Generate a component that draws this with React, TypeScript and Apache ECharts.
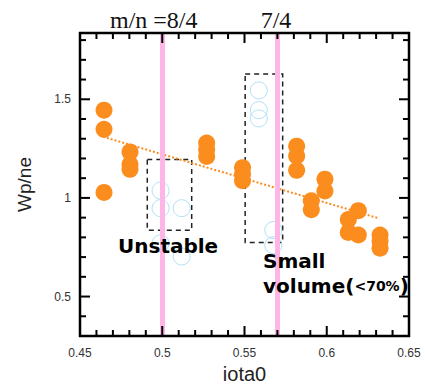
import React, { useEffect, useRef } from "react";
import * as echarts from "echarts";

// ---- data ----
const stableIota = [
  0.4646, 0.4646, 0.4646,
  0.4804, 0.4804, 0.4804,
  0.527, 0.527, 0.527,
  0.5488, 0.5488, 0.5488,
  0.5817, 0.5817, 0.5817,
  0.5906, 0.5906,
  0.5989, 0.5989,
  0.6131, 0.6131,
  0.6192, 0.6192,
  0.6324, 0.6324, 0.6324,
];
const stableWp = [
  1.445, 1.348, 1.028,
  1.233, 1.17, 1.145,
  1.278, 1.245, 1.21,
  1.153, 1.12, 1.087,
  1.262, 1.212, 1.14,
  0.985, 0.94,
  1.095, 1.035,
  0.89, 0.825,
  0.935, 0.812,
  0.812, 0.78, 0.745,
];
const unstableIota = [0.499, 0.499, 0.5118, 0.499, 0.5118, 0.5587, 0.5587, 0.5587, 0.5675, 0.5675];
const unstableWp = [1.037, 0.948, 0.948, 0.77, 0.703, 1.545, 1.445, 1.403, 0.837, 0.76];
const trendIota = [0.464, 0.631];
const trendWp = [1.31, 0.898];
const resonanceIota = [0.5, 4 / 7];
const resonanceLabels = ["m/n =8/4", "7/4"];
const xMajor = [0.45, 0.5, 0.55, 0.6, 0.65];
const yMajor = [0.5, 1, 1.5];
const unstableBox = [[0.4909, 1.195], [0.5179, 0.8365]];
const smallVolumeBox = [[0.5504, 1.6285], [0.5732, 0.774]];

const xTickValues: number[] = [];
for (let i = 45; i <= 65; i++) xTickValues.push(i / 100);
const yTickValues: number[] = [];
for (let i = 4; i <= 18; i++) yTickValues.push(i / 10);

const FONT = "Liberation Sans, Arial, sans-serif";
const ORANGE = "#FB8C1E";
const BLUE = "#9ed8f2";
const PINK = "#ffb6e6";
const X_MIN = 0.45, X_MAX = 0.65, Y_MIN = 0.3, Y_MAX = 1.836;

const isMajor = (arr: number[], v: number) => arr.some((m) => Math.abs(m - v) < 1e-6);

export default function App() {
  const ref = useRef<HTMLDivElement>(null);
  useEffect(() => {
    if (!ref.current) return;
    const chart = echarts.init(ref.current, null, { renderer: "svg" });
    chart.setOption({
      animation: false,
      grid: { left: 80, right: 16, top: 33, bottom: 51, containLabel: false },
      xAxis: {
        type: "value",
        min: X_MIN,
        max: X_MAX,
        interval: 0.05,
        axisLine: { show: false },
        axisTick: { show: false },
        axisLabel: { show: true, color: "#333", fontSize: 12, fontFamily: FONT, margin: 11, showMinLabel: true, showMaxLabel: true },
        splitLine: { show: false },
        name: "iota0",
        nameLocation: "middle",
        nameGap: 28,
        nameTextStyle: { fontSize: 20, color: "#222", fontFamily: FONT },
      },
      yAxis: {
        type: "value",
        min: Y_MIN,
        max: Y_MAX,
        interval: 0.1,
        axisLine: { show: false },
        axisTick: { show: false },
        axisLabel: {
          show: true,
          color: "#333",
          fontSize: 12,
          fontFamily: FONT,
          margin: 9,
          showMaxLabel: false,
          formatter: (v: number) => (isMajor(yMajor, v) ? String(Math.round(v * 10) / 10) : ""),
        },
        splitLine: { show: false },
        name: "Wp/ne",
        nameLocation: "middle",
        nameGap: 46,
        nameTextStyle: { fontSize: 19, color: "#222", fontFamily: FONT },
      },
      series: [
        {
          type: "line",
          data: [],
          z: 1,
          markLine: {
            silent: true,
            symbol: "none",
            label: { show: false },
            lineStyle: { color: PINK, width: 5, type: "solid" },
            data: resonanceIota.map((v) => ({ xAxis: v })),
          },
          markArea: {
            silent: true,
            itemStyle: { color: "rgba(0,0,0,0)", borderColor: "#222", borderWidth: 1.5, borderType: [5, 4] },
            data: [unstableBox, smallVolumeBox].map((b) => [{ coord: b[0] }, { coord: b[1] }]),
          },
        },
        {
          type: "line",
          data: trendIota.map((x, i) => [x, trendWp[i]]),
          symbol: "none",
          z: 3,
          lineStyle: { color: ORANGE, width: 2, type: [2, 2] },
        },
        {
          type: "scatter",
          data: unstableIota.map((x, i) => [x, unstableWp[i]]),
          symbol: "circle",
          symbolSize: 17,
          z: 4,
          itemStyle: { color: "rgba(0,0,0,0)", borderColor: BLUE, borderWidth: 1 },
        },
        {
          type: "scatter",
          data: stableIota.map((x, i) => [x, stableWp[i]]),
          symbol: "circle",
          symbolSize: 17,
          z: 5,
          itemStyle: { color: ORANGE, opacity: 1 },
        },
      ],
    });

    // frame and ticks positioned through the axis scales
    const toPx = (x: number, y: number) => chart.convertToPixel({ gridIndex: 0 }, [x, y]) as number[];
    const [L, B] = toPx(X_MIN, Y_MIN);
    const [R, T] = toPx(X_MAX, Y_MAX);
    const frame: any[] = [];
    const seg = (x1: number, y1: number, x2: number, y2: number, w: number) =>
      frame.push({
        type: "line",
        z: 50,
        silent: true,
        shape: { x1, y1, x2, y2 },
        style: { stroke: "#000", lineWidth: w, opacity: 1 },
      });
    // frame sides
    seg(L, T - 1, L, B + 1, 2.5);
    seg(R, T - 1, R, B + 1, 2.5);
    seg(L - 1, T, R + 1, T, 2.5);
    seg(L - 1, B, R + 1, B, 2.5);
    xTickValues.forEach((v) => {
      const px = toPx(v, Y_MIN)[0];
      const len = isMajor(xMajor, v) ? 10 : 6;
      seg(px, B, px, B - len, 2);
      seg(px, T, px, T + len, 2);
    });
    yTickValues.forEach((v) => {
      const py = toPx(X_MIN, v)[1];
      const len = isMajor(yMajor, v) ? 10 : 6;
      seg(L, py, L + len, py, 2);
      seg(R, py, R - len, py, 2);
    });

    const texts: any[] = [
      {
        type: "text", id: "t1", x: 110, y: 20, z: 60,
        style: { text: resonanceLabels[0], font: "24px 'Liberation Serif', serif", fill: "#111", verticalAlign: "middle", align: "left" },
      },
      {
        type: "text", id: "t2", x: 276, y: 20, z: 60,
        style: { text: resonanceLabels[1], font: "24px 'Liberation Serif', serif", fill: "#111", verticalAlign: "middle", align: "center" },
      },
      {
        type: "text", id: "t3", x: 118, y: 246, z: 60,
        style: { text: "Unstable", font: "bold 20px 'DejaVu Sans', sans-serif", fill: "#000", verticalAlign: "middle", align: "left" },
      },
      {
        type: "text", id: "t4", x: 263, y: 261, z: 60,
        style: { text: "Small", font: "bold 20px 'DejaVu Sans', sans-serif", fill: "#000", verticalAlign: "middle", align: "left" },
      },
      {
        type: "text", id: "t5", x: 263, y: 286, z: 60,
        style: {
          text: "{a|volume(}{b|<70%}{a|)}",
          verticalAlign: "middle", align: "left",
          rich: {
            a: { font: "bold 20px 'DejaVu Sans', sans-serif", fill: "#000" },
            b: { font: "bold 14px 'DejaVu Sans', sans-serif", fill: "#000" },
          },
        },
      },
    ];

    chart.setOption({
      graphic: [...frame, ...texts],
    });
    return () => chart.dispose();
  }, []);
  return (
    <div
      ref={ref}
      style={{ position: "absolute", left: 0, top: 0, width: 425, height: 389, background: "#fff" }}
    />
  );
}
